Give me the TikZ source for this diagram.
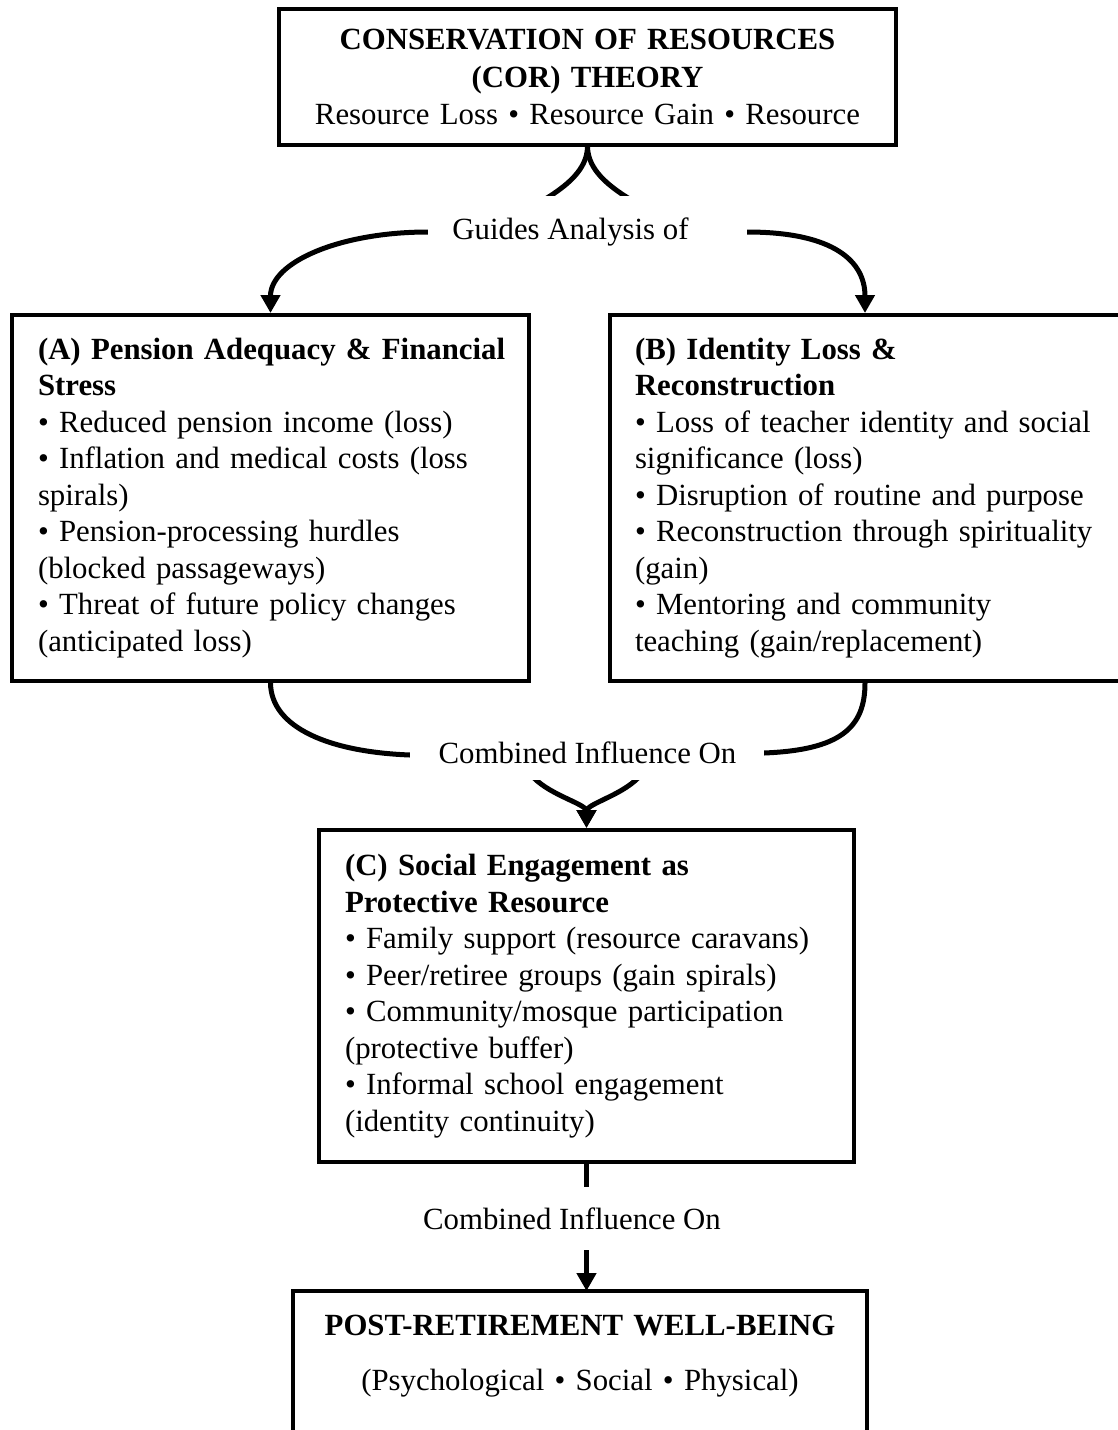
\documentclass[tikz,border=0pt]{standalone}
\usepackage{fontspec}
\setmainfont{Liberation Serif}
\usetikzlibrary{arrows.meta}
\newcommand{\rowtext}[1]{\mbox{#1}}
\tikzset{
  boxnode/.style={draw, line width=4pt, rectangle, inner xsep=26pt, inner ysep=0pt,
    align=left, font=\fontsize{30.8pt}{36.5pt}\selectfont},
  conn/.style={line width=5pt, -{Triangle[width=19pt,length=18pt]}},
  gapbox/.style={fill=white, inner sep=0pt},
  lbl/.style={font=\fontsize{30.8pt}{36.5pt}\selectfont, inner sep=0pt, anchor=base},
}
\begin{document}
\begin{tikzpicture}[x=1pt,y=-1pt]
\path[use as bounding box] (0,0) rectangle (1118,1430);
\clip (0,0) rectangle (1118,1430);

% boxes
\node[boxnode, align=center, minimum width=617pt, minimum height=136pt, text width=565pt,
  font=\fontsize{30.8pt}{37.5pt}\selectfont] (top) at (587.5,77)
  {\textbf{CONSERVATION OF RESOURCES}\\ \textbf{(COR) THEORY}\\ \rowtext{Resource Loss • Resource Gain • Resource}};

\node[boxnode, minimum width=517pt, minimum height=366pt, text width=465pt] (A) at (270.5,498)
  {\rowtext{\textbf{(A) Pension Adequacy \& Financial}}\\
   \textbf{Stress}\\
   \rowtext{• Reduced pension income (loss)}\\
   \rowtext{• Inflation and medical costs (loss}\\
   spirals)\\
   \rowtext{• Pension-processing hurdles}\\
   \rowtext{(blocked passageways)}\\
   \rowtext{• Threat of future policy changes}\\
   \rowtext{(anticipated loss)}};

\node[boxnode, inner xsep=25pt, minimum width=510pt, minimum height=366pt, text width=460pt] (B) at (865,498)
  {\rowtext{\textbf{(B) Identity Loss \&}}\\
   \textbf{Reconstruction}\\
   \rowtext{• Loss of teacher identity and social}\\
   \rowtext{significance (loss)}\\
   \rowtext{• Disruption of routine and purpose}\\
   \rowtext{• Reconstruction through spirituality}\\
   (gain)\\
   \rowtext{• Mentoring and community}\\
   \rowtext{teaching (gain/replacement)}};

\node[boxnode, minimum width=535pt, minimum height=332pt, text width=483pt] (C) at (586.5,996)
  {\rowtext{\textbf{(C) Social Engagement as}}\\
   \rowtext{\textbf{Protective Resource}}\\
   \rowtext{• Family support (resource caravans)}\\
   \rowtext{• Peer/retiree groups (gain spirals)}\\
   \rowtext{• Community/mosque participation}\\
   \rowtext{(protective buffer)}\\
   \rowtext{• Informal school engagement}\\
   \rowtext{(identity continuity)}};

\node[anchor=north, align=center, inner xsep=0pt, inner ysep=24pt, text width=574pt,
  font=\fontsize{30.8pt}{36.5pt}\selectfont] (D) at (580,1291)
  {\textbf{POST-RETIREMENT WELL-BEING}\\[18.5pt] (Psychological • Social • Physical)};
\draw[line width=4pt] ([yshift=-200pt]D.south west) -- (D.north west) -- (D.north east) -- ([yshift=-200pt]D.south east);

% connectors
\draw[conn] (top.south) .. controls (587,170) and (566,186) .. (547,198)
  .. controls (515,215) and (470,232) .. (428,232)
  .. controls (340,232) and (270.5,262) .. (A.north);
\draw[conn] (top.south) .. controls (588,170) and (609,186) .. (628,198)
  .. controls (660,215) and (705,232) .. (747,232)
  .. controls (835,232) and (865,262) .. (B.north);
\draw[conn] (A.south) .. controls (271,728) and (330,752) .. (410,755)
  .. controls (470,757) and (515,760) .. (534,778)
  .. controls (552,796) and (586.5,804) .. (C.north);
\draw[conn] (B.south) .. controls (865,728) and (840,750) .. (764,753)
  .. controls (700,756) and (658,760) .. (638,778)
  .. controls (620,796) and (586.5,804) .. (C.north);
\draw[conn] (C.south) -- (C.south |- D.north);

% labels over connectors
\node[gapbox, minimum width=319pt, minimum height=64pt] (g1) at (587.5,228) {};
\node[lbl] (g1t) at (570.5,239) {Guides Analysis of};
\node[gapbox, minimum width=354pt, minimum height=52pt] (g2) at (587,754) {};
\node[lbl] (g2t) at (587.5,763) {Combined Influence On};
\node[gapbox, minimum width=320pt, minimum height=63pt] (g3) at (587,1218.5) {};
\node[lbl] (g3t) at (572,1229) {Combined Influence On};
\end{tikzpicture}
\end{document}
